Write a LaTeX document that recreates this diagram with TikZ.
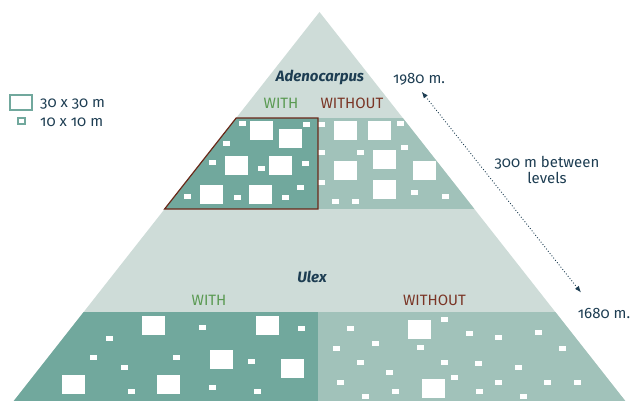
\documentclass[tikz,border=0pt]{standalone}
\usepackage{fontspec}
\setmainfont{Fira Sans}[Numbers=OldStyle]
\usetikzlibrary{arrows.meta}
\definecolor{pyrlight}{HTML}{CEDCD8}
\definecolor{pyrdark}{HTML}{71A89D}
\definecolor{pyrmid}{HTML}{A1C2BA}
\definecolor{navy}{HTML}{1D3D52}
\definecolor{withgreen}{HTML}{5A9A52}
\definecolor{withoutbrown}{HTML}{7A3525}
\definecolor{outlinebrown}{HTML}{6A2818}
\tikzset{
  lbl/.style={font=\fontsize{15}{16}\selectfont, inner sep=0pt},
  title/.style={font=\fontsize{15}{16}\selectfont\bfseries\itshape, text=navy, inner sep=0pt},
  withlbl/.style={lbl, text=withgreen},
  withoutlbl/.style={lbl, text=withoutbrown},
  navylbl/.style={lbl, text=navy},
}
\newcommand{\bigsquares}[1]{\foreach \px/\py in {#1} {\fill[white] (\px,\py) rectangle ++(22.7,18.7);}}
\newcommand{\smallsquares}[1]{\foreach \px/\py in {#1} {\fill[white] (\px,\py) rectangle ++(7,4.7);}}
\begin{document}
\begin{tikzpicture}[x=1pt,y=-1pt]
\useasboundingbox (0,0) rectangle (632,401);
% pyramid
\coordinate (apex) at (319.5,12);
\coordinate (bl) at (13.7,401);
\coordinate (br) at (625.3,401);
\fill[pyrlight] (apex) -- (br) -- (bl) -- cycle;
\begin{scope}
\clip (apex) -- (br) -- (bl) -- cycle;
\fill[pyrdark] (0,118) rectangle (318,209);
\fill[pyrmid] (318,118) rectangle (632,209);
\fill[pyrdark] (0,312) rectangle (318,401);
\fill[pyrmid] (318,312) rectangle (632,401);
% upper WITH squares
\bigsquares{250/121, 279/129, 225/156, 269/156, 200/185, 249/185}
\smallsquares{239/121, 302.7/122, 222.7/141, 209/160, 258/166, 302/161, 297/185, 184/194, 234/195, 282/195}
% upper WITHOUT squares
\bigsquares{334/121, 368/121, 373/150, 334/161, 413/161, 373/180}
\smallsquares{317.7/122, 396.7/121, 318/150, 357/150, 400.7/145, 318/180, 411/190, 442/194, 332/199, 352/199}
% lower WITH squares
\bigsquares{142/316, 256/316, 210/350, 281/359, 62/375, 157/375}
\smallsquares{199/325, 298/326, 106/336, 90/355, 173/355, 121/365, 248/359, 128/389, 209/385, 254/389}
% lower WITHOUT squares
\bigsquares{408/320, 422/379}
\smallsquares{441/317, 347/326, 466/331, 495/335, 535/330, 372/341, 333/346, 417/345, 559/346, 357/360, 441/360, 475/361, 515/365, 386/370, 451/375, 337/380, 495/380, 544/380, 574/380, 362/394, 392/389, 476/389, 520/394}
\end{scope}
% outline of upper WITH area
\draw[outlinebrown, line width=1.2pt, line join=miter] (236.2,118) -- (318,118) -- (318,209) -- (164.6,209) -- cycle;
% titles and labels
\node[title] (adeno) at (320,77) {Adenocarpus};
\node[withlbl] (uwith) at (281,103) {WITH};
\node[withoutlbl] (uwithout) at (352,103) {WITHOUT};
\node[title] (ulex) at (312,277) {Ulex};
\node[withlbl] (lwith) at (209,300) {WITH};
\node[withoutlbl] (lwithout) at (434.5,300) {WITHOUT};
% altitudes
\node[navylbl] (alt1980) at (419,79) {1980 m.};
\node[navylbl] (alt1680) at (604,313) {1680 m.};
\node[navylbl, align=center] (between) at (547,170) {300 m between\\[0pt]levels};
\coordinate (arrtop) at (421.7,91.7);
\coordinate (arrbot) at (581,292.5);
\draw[navy, dotted, line width=0.9pt, {Latex[length=6.5pt,width=5pt]}-{Latex[length=6.5pt,width=5pt]}] (arrtop) -- (arrbot);
% legend
\node[draw=pyrdark, line width=1.3pt, fill=white, minimum width=22pt, minimum height=15pt, inner sep=0pt] (legbig) at (21,102.5) {};
\node[draw=pyrdark, line width=1.1pt, fill=white, minimum width=7pt, minimum height=6pt, inner sep=0pt] (legsmall) at (21.5,121) {};
\node[navylbl, anchor=west] (leg30) at (40,104) {30 x 30 m};
\node[navylbl, anchor=west] (leg10) at (40,122) {10 x 10 m};
\end{tikzpicture}
\end{document}
